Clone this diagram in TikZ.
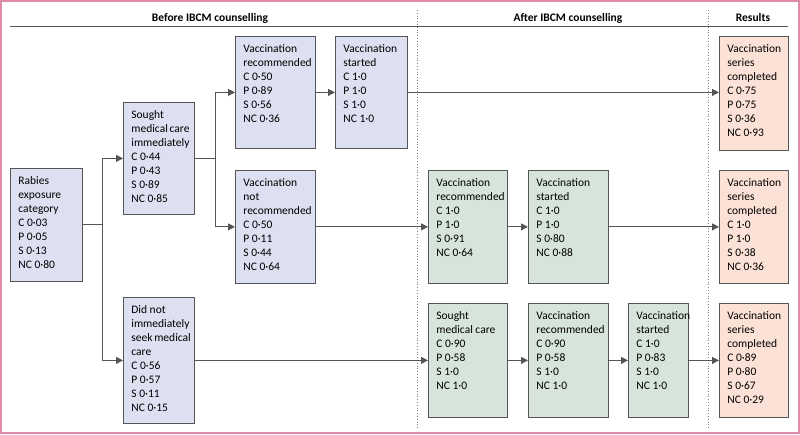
\documentclass[tikz,border=0pt]{standalone}
\usepackage{fontspec}
\setmainfont{Carlito}
\usetikzlibrary{arrows.meta}
\definecolor{boxline}{RGB}{85,85,85}
\definecolor{beforefill}{RGB}{221,224,240}
\definecolor{afterfill}{RGB}{215,228,220}
\definecolor{resultfill}{RGB}{252,226,214}
\definecolor{frameline}{RGB}{222,140,170}
\tikzset{>={Triangle[length=7pt,width=7pt]},
  box/.style n args={3}{draw=boxline, fill=#1, line width=0.8pt, anchor=north west,
    inner sep=8pt, font=\fontsize{11.5}{14}\selectfont,
    execute at begin node={\begin{minipage}[t][\dimexpr#3pt-16pt\relax][t]{\dimexpr#2pt-16pt\relax}\raggedright\hfuzz=20pt\hyphenpenalty=10000},
    execute at end node={\end{minipage}}},
  flow/.style={draw=boxline, line width=0.9pt, ->},
  heading/.style={font=\fontsize{11.5}{13}\selectfont\bfseries, anchor=base}
}

\begin{document}
\begin{tikzpicture}[x=1pt,y=-1pt]
  \useasboundingbox (0,0) rectangle (800,434);
  \draw[frameline, line width=1.5pt] (1,1) rectangle (799,433);

  % headings and phase separators
  \node[heading] (before) at (210,21) {Before IBCM counselling};
  \node[heading] (after) at (568,21) {After IBCM counselling};
  \node[heading] (results) at (753,21) {Results};
  \draw[boxline, line width=0.8pt] (10,26) -- (788,26);
  \draw[gray, dotted, line width=0.8pt] (417,10) -- (417,430);
  \draw[gray, dotted, line width=0.8pt] (708,10) -- (708,430);

  % before counselling
  \node[box={beforefill}{72}{113}] (rabies) at (10,168)
    {Rabies\\exposure\\category\\C 0·03\\P 0·05\\S 0·13\\NC 0·80};
  \node[box={beforefill}{71}{112}] (sought) at (123,102)
    {Sought\\medical~care\\immediately\\C 0·44\\P 0·43\\S 0·89\\NC 0·85};
  \node[box={beforefill}{71}{126}] (didnot) at (123,297)
    {Did~not\\immediately\\seek~medical\\care\\C 0·56\\P 0·57\\S 0·11\\NC 0·15};
  \node[box={beforefill}{80}{112}] (vrec) at (235,36)
    {Vaccination\\recommended\\C 0·50\\P 0·89\\S 0·56\\NC 0·36};
  \node[box={beforefill}{80}{113}] (vnot) at (235,170)
    {Vaccination\\not\\recommended\\C 0·50\\P 0·11\\S 0·44\\NC 0·64};
  \node[box={beforefill}{72}{112}] (vstart) at (335,36)
    {Vaccination\\started\\C 1·0\\P 1·0\\S 1·0\\NC 1·0};

  % after counselling
  \node[box={afterfill}{79}{113}] (arec) at (428,170)
    {Vaccination\\recommended\\C 1·0\\P 1·0\\S 0·91\\NC 0·64};
  \node[box={afterfill}{80}{113}] (astart) at (528,170)
    {Vaccination\\started\\C 1·0\\P 1·0\\S 0·80\\NC 0·88};
  \node[box={afterfill}{79}{114}] (asought) at (428,303)
    {Sought\\medical~care\\C 0·90\\P 0·58\\S 1·0\\NC 1·0};
  \node[box={afterfill}{80}{114}] (arec2) at (528,303)
    {Vaccination\\recommended\\C 0·90\\P 0·58\\S 1·0\\NC 1·0};
  \node[box={afterfill}{60}{114}] (astart2) at (628,303)
    {Vaccination\\started\\C 1·0\\P 0·83\\S 1·0\\NC 1·0};

  % results
  \node[box={resultfill}{69}{114}] (res1) at (719,36)
    {Vaccination\\series\\completed\\C 0·75\\P 0·75\\S 0·36\\NC 0·93};
  \node[box={resultfill}{69}{113}] (res2) at (719,170)
    {Vaccination\\series\\completed\\C 1·0\\P 1·0\\S 0·38\\NC 0·36};
  \node[box={resultfill}{69}{114}] (res3) at (719,303)
    {Vaccination\\series\\completed\\C 0·89\\P 0·80\\S 0·67\\NC 0·29};

  % connectors
  \draw[flow] (rabies.east) -- ++(20,0) coordinate (fork1) |- (sought.west);
  \draw[flow] (fork1) |- (didnot.west);
  \draw[flow] (sought.east) -- ++(21,0) coordinate (fork2) |- (vrec.west);
  \draw[flow] (fork2) |- (vnot.west);
  \draw[flow] (vrec) -- (vstart);
  \draw[flow] (vstart.east) -- (vstart.east -| res1.west);
  \draw[flow] (vnot) -- (arec);
  \draw[flow] (arec) -- (astart);
  \draw[flow] (astart) -- (res2);
  \draw[flow] (didnot.east) -- (didnot.east -| asought.west);
  \draw[flow] (asought) -- (arec2);
  \draw[flow] (arec2) -- (astart2);
  \draw[flow] (astart2) -- (res3);
\end{tikzpicture}
\end{document}
